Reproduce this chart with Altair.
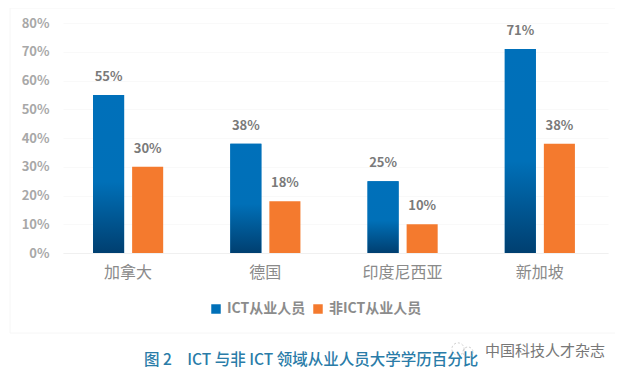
import altair as alt
import pandas as pd

countries = ["加拿大", "德国", "印度尼西亚", "新加坡"]
ict = [0.55, 0.38, 0.25, 0.71]
non_ict = [0.30, 0.18, 0.10, 0.38]
series = ["ICT从业人员", "非ICT从业人员"]
caption = "图 2\u3000ICT 与非 ICT 领域从业人员大学学历百分比"
watermark = "中国科技人才杂志"
FONT = "Noto Sans CJK SC"

rows = []
for c, a, b in zip(countries, ict, non_ict):
    rows.append({"country": c, "series": series[0], "value": a})
    rows.append({"country": c, "series": series[1], "value": b})
df = pd.DataFrame(rows)
one = pd.DataFrame({"k": [0]})

x = alt.X("country:N", sort=countries, title=None,
          scale=alt.Scale(paddingInner=0.489, paddingOuter=0.23, align=0.476),
          axis=alt.Axis(labelAngle=0, labelFont=FONT, labelFontSize=16, labelColor="#8a8a8a",
                        labelPadding=11, domainColor="#f0f0f0", ticks=False, grid=False))
xo = alt.XOffset("series:N", sort=series, scale=alt.Scale(paddingInner=0.205, paddingOuter=0))
y = alt.Y("value:Q", title=None,
          scale=alt.Scale(domain=[0, 0.8]),
          axis=alt.Axis(format=".0%", values=[i / 10 for i in range(9)], labelFont=FONT, labelFontSize=13,
                        labelFontWeight="bold", labelColor="#a8a8a8", labelPadding=14, domain=False,
                        ticks=False, gridColor="#f9f9f9"))

panel = alt.Chart(one).mark_rect(fillOpacity=0, stroke="#f6f6f6", strokeWidth=1).encode(
    x=alt.value(-53), x2=alt.value(560), y=alt.value(-15), y2=alt.value(310))

bars = alt.Chart(df).mark_bar().encode(
    x=x, xOffset=xo, y=y,
    color=alt.Color("series:N", sort=series,
                    scale=alt.Scale(domain=series, range=["#0070b8", "#f47a2e"]),
                    legend=alt.Legend(title=None, orient="none", legendX=146, legendY=279, direction="horizontal",
                                      symbolType="square", symbolSize=90, symbolStrokeWidth=0, labelFont=FONT,
                                      labelFontSize=14, labelFontWeight="bold", labelColor="#8c8c8c",
                                      columnPadding=5, labelOffset=4)),
)

blue = alt.Chart(df[df["series"] == series[0]]).mark_bar(
    color=alt.LinearGradient(gradient="linear", x1=0, x2=0, y1=0, y2=1,
                             stops=[alt.GradientStop(offset=0, color="#0070ba"),
                                    alt.GradientStop(offset=0.55, color="#0070b8"),
                                    alt.GradientStop(offset=1, color="#003f70")])
).encode(x=x, xOffset=xo, y=y)

labels = alt.Chart(df).mark_text(font=FONT, fontSize=13, fontWeight="bold", color="#7a7a7a", dy=-18).encode(
    x=x, xOffset=xo, y=y, text=alt.Text("value:Q", format=".0%"))

cap = alt.Chart(pd.DataFrame({"t": [caption]})).mark_text(
    font=FONT, fontSize=15.5, color="#2a7ca8", align="left", baseline="middle", fontWeight=500
).encode(x=alt.value(81), y=alt.value(337), text="t:N")

icon_a = alt.Chart(one).mark_point(shape="circle", size=150, filled=False, stroke="#bbbbbb",
                                   strokeWidth=1, strokeDash=[2, 2]).encode(
    x=alt.value(395), y=alt.value(326))
icon_b = alt.Chart(one).mark_point(shape="circle", size=100, filled=False, stroke="#bbbbbb",
                                   strokeWidth=1, strokeDash=[2, 2]).encode(
    x=alt.value(405), y=alt.value(329))

mark = alt.Chart(pd.DataFrame({"t": [watermark]})).mark_text(
    font=FONT, fontSize=15, color="#777777", align="left", baseline="middle"
).encode(x=alt.value(422), y=alt.value(328), text="t:N")

chart = alt.layer(panel, bars, blue, labels, cap, icon_a, icon_b, mark).resolve_scale(x="shared").properties(
    width=545, height=230,
    padding={"left": 55, "top": 15, "right": 7, "bottom": 117},
    autosize=alt.AutoSizeParams(type="none"),
    background="#ffffff",
).configure_view(stroke=None)

chart.save("out.html", embed_options={"renderer": "svg", "actions": False})
